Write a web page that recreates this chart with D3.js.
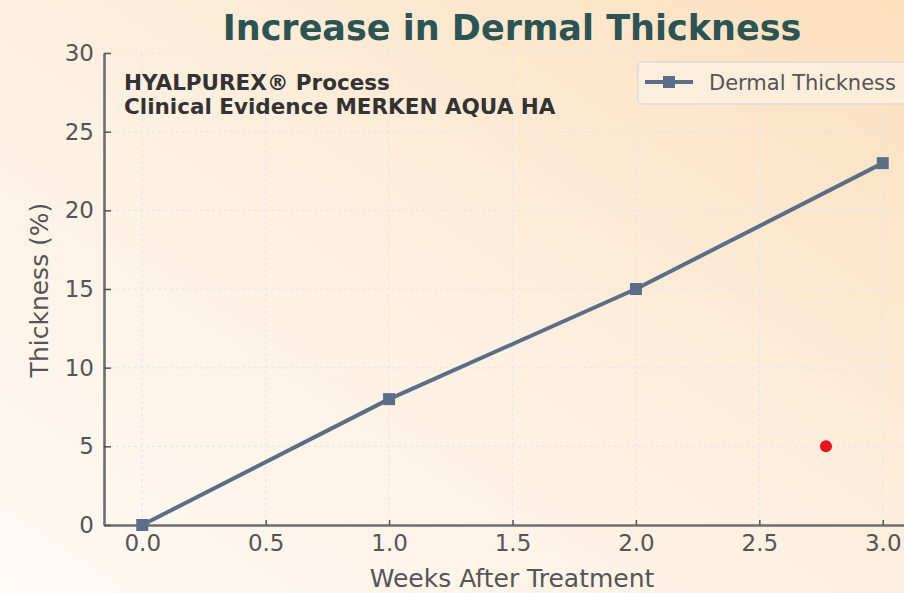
<!DOCTYPE html>
<html><head><meta charset="utf-8">
<script src="https://cdn.jsdelivr.net/npm/d3@7"></script>
<style>html,body{margin:0;padding:0;overflow:hidden;}svg{display:block;}</style>
</head><body>
<script>
const weeks = [0, 1, 2, 3];
const thickness = [0, 8, 15, 23];
const redPointX = [2.77];
const redPointY = [5];
const xTicks = [0, 0.5, 1, 1.5, 2, 2.5, 3];
const yTicks = [0, 5, 10, 15, 20, 25, 30];
const titleText = "Increase in Dermal Thickness";
const noteLines = ["HYALPUREX® Process", "Clinical Evidence MERKEN AQUA HA"];
const seriesName = "Dermal Thickness";

const W = 904, H = 593;
const svg = d3.select("body").append("svg").attr("width", W).attr("height", H);
const defs = svg.append("defs");
const lg = defs.append("linearGradient").attr("id","bg").attr("x1","0").attr("y1","1").attr("x2","1").attr("y2","0");
lg.append("stop").attr("offset","0").attr("stop-color","#fefaf4");
lg.append("stop").attr("offset","0.5").attr("stop-color","#fdf0e0");
lg.append("stop").attr("offset","1").attr("stop-color","#fcdfbd");
svg.append("rect").attr("width",W).attr("height",H).attr("fill","url(#bg)");

const x = d3.scaleLinear().domain([-0.155, 3.155]).range([104, 921]);
const y = d3.scaleLinear().domain([0, 30]).range([525, 53]);
const font = "DejaVu Sans, sans-serif";

// grid
const grid = svg.append("g").attr("stroke","#e6e6ea").attr("stroke-width",1.2).attr("stroke-dasharray","3,3").attr("opacity",0.9);
xTicks.forEach(t => grid.append("line").attr("x1",x(t)).attr("x2",x(t)).attr("y1",y(30)).attr("y2",y(0)));
yTicks.forEach(t => grid.append("line").attr("x1",x.range()[0]).attr("x2",x.range()[1]).attr("y1",y(t)).attr("y2",y(t)));

// axes
const xAxis = svg.append("g").attr("transform",`translate(0,${y(0)})`)
  .call(d3.axisBottom(x).tickValues(xTicks).tickFormat(d3.format(".1f")).tickSizeInner(-5).tickSizeOuter(0).tickPadding(10));
const yAxis = svg.append("g").attr("transform",`translate(${x.range()[0]},0)`)
  .call(d3.axisLeft(y).tickValues(yTicks).tickFormat(d3.format("d")).tickSizeInner(-7).tickSizeOuter(0).tickPadding(10));
[xAxis, yAxis].forEach(a => {
  a.select(".domain").attr("stroke","#6e6e6e").attr("stroke-width",2.6);
  a.selectAll(".tick line").attr("stroke","#555").attr("stroke-width",1.5);
  a.selectAll(".tick text").attr("fill","#555").attr("font-family",font).attr("font-size",23);
});

// line
const line = d3.line().x((d,i)=>x(weeks[i])).y(d=>y(d));
svg.append("path").datum(thickness).attr("d",line).attr("fill","none")
  .attr("stroke","#5b6e88").attr("stroke-width",4).attr("stroke-linejoin","round");
svg.selectAll("rect.mk").data(thickness).enter().append("rect").attr("class","mk")
  .attr("x",(d,i)=>x(weeks[i])-6).attr("y",d=>y(d)-6).attr("width",12).attr("height",12)
  .attr("fill","#5b6e88");

// red point
svg.selectAll("circle.red").data(redPointX).enter().append("circle").attr("class","red")
  .attr("cx",d=>x(d)).attr("cy",(d,i)=>y(redPointY[i])).attr("r",6).attr("fill","#e8141b");

// title
svg.append("text").attr("x",512).attr("y",40).attr("text-anchor","middle")
  .attr("font-family",font).attr("font-weight","bold").attr("font-size",35)
  .attr("fill","#2c5452").text(titleText);

// note
noteLines.forEach((t,i)=>svg.append("text").attr("x",124).attr("y",90+i*24)
  .attr("font-family",font).attr("font-weight","bold").attr("font-size",21.5)
  .attr("fill","#333").text(t));

// legend
const leg = svg.append("g");
leg.append("rect").attr("x",638).attr("y",62).attr("width",290).attr("height",42).attr("rx",4)
  .attr("fill","#fdf2e4").attr("fill-opacity",0.7).attr("stroke","#e0dcd8").attr("stroke-width",1.5);
leg.append("line").attr("x1",645).attr("x2",693).attr("y1",82).attr("y2",82).attr("stroke","#5b6e88").attr("stroke-width",4);
leg.append("rect").attr("x",663).attr("y",76).attr("width",12).attr("height",12).attr("fill","#5b6e88");
leg.append("text").attr("x",709).attr("y",90).attr("font-family",font).attr("font-size",21).attr("fill","#555").text(seriesName);

// axis labels
svg.append("text").attr("x",512).attr("y",587).attr("text-anchor","middle")
  .attr("font-family",font).attr("font-size",25).attr("fill","#555").text("Weeks After Treatment");
svg.append("text").attr("transform","translate(48,290) rotate(-90)").attr("text-anchor","middle")
  .attr("font-family",font).attr("font-size",25).attr("fill","#555").text("Thickness (%)");
</script>
</body></html>
